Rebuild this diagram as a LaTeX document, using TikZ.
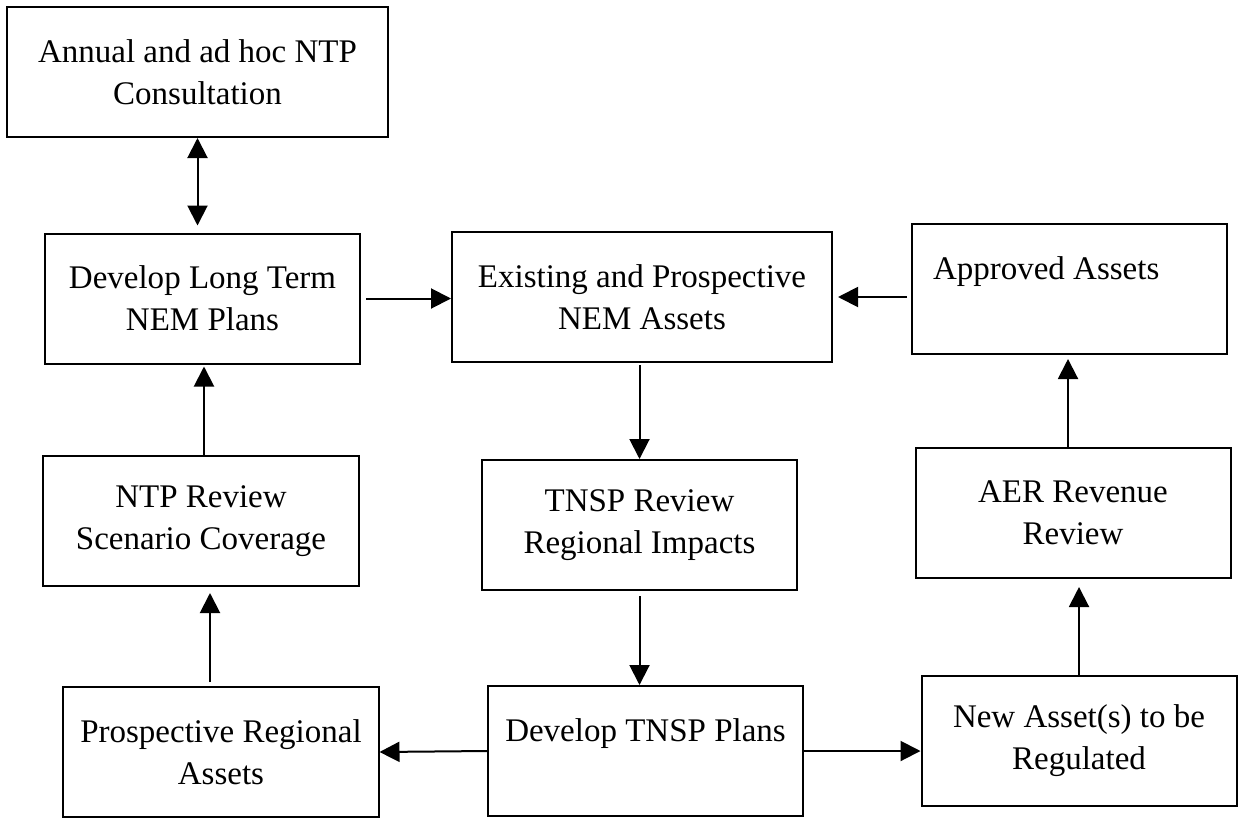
\documentclass[tikz,border=0pt]{standalone}
\usepackage{fontspec}
\setmainfont{Liberation Serif}
\usetikzlibrary{arrows.meta}
\usetikzlibrary{calc}
\tikzstyle{block}=[draw, line width=0.8pt, minimum width=126pt, minimum height=52pt, align=center, inner sep=2pt, font=\fontsize{13.2pt}{16.8pt}\selectfont]
\tikzstyle{wideblock}=[block, minimum width=152pt]
\tikzstyle{upper}=[text height=9pt, text depth=17pt]
\tikzstyle{flow}=[line width=0.8pt, -{Triangle[length=8pt, width=8pt]}]
\tikzstyle{twoway}=[line width=0.8pt, {Triangle[length=8pt, width=8pt]}-{Triangle[length=8pt, width=8pt]}]

\begin{document}
\begin{tikzpicture}[x=0.4pt, y=-0.4pt]
  \useasboundingbox (0,0) rectangle (1244,819);
  \node[wideblock] (consult) at (197.5,72) {Annual and ad hoc NTP\\Consultation};
  \node[block] (longterm) at (202.5,298.5) {Develop Long Term\\NEM Plans};
  \node[wideblock] (nemassets) at (642,297) {Existing and Prospective\\NEM Assets};
  \node[block, upper, align=flush left, text width=109.2pt, inner xsep=8.4pt] (approved) at (1069.5,289) {Approved Assets};
  \node[block] (ntpreview) at (201,521) {NTP Review\\Scenario Coverage};
  \node[block] (tnspreview) at (639.5,525) {TNSP Review\\Regional Impacts};
  \node[block] (aer) at (1073,513) {AER Revenue\\Review};
  \node[block] (regassets) at (221,752) {Prospective Regional\\Assets};
  \node[block, upper] (tnspplans) at (645.5,751) {Develop TNSP Plans};
  \node[block] (newasset) at (1079,741) {New Asset(s) to be\\Regulated};

  \draw[twoway, shorten >=2.8pt]
    (consult.south) -- (consult.south |- longterm.north);
  \draw[flow, shorten <=2pt]
    (longterm.east) -- (nemassets.west |- longterm.east);
  \draw[flow, shorten <=1.6pt, shorten >=2pt]
    (approved.west |- nemassets.east) -- (nemassets.east);
  \draw[flow, shorten <=0.8pt]
    (tnspreview.north |- nemassets.south) -- (tnspreview.north);
  \draw[flow, shorten <=2pt]
    (tnspreview.south) -- (tnspreview.south |- tnspplans.north);
  \draw[flow, shorten >=0.8pt]
    ($(ntpreview.north)+(3,0)$) -- ($(ntpreview.north |- longterm.south)+(3,0)$);
  \draw[flow, shorten <=1.6pt, shorten >=2.4pt]
    ($(regassets.north)+(-11,0)$) -- ($(regassets.north |- ntpreview.south)+(-11,0)$);
  \draw[flow]
    (tnspplans.west) -- (regassets.east);
  \draw[flow]
    (tnspplans.east) -- (newasset.west |- tnspplans.east);
  \draw[flow, shorten >=3.2pt]
    (newasset.north) -- (newasset.north |- aer.south);
  \draw[flow, shorten >=1.6pt]
    ($(aer.north)+(-5,0)$) -- ($(aer.north |- approved.south)+(-5,0)$);
\end{tikzpicture}
\end{document}
